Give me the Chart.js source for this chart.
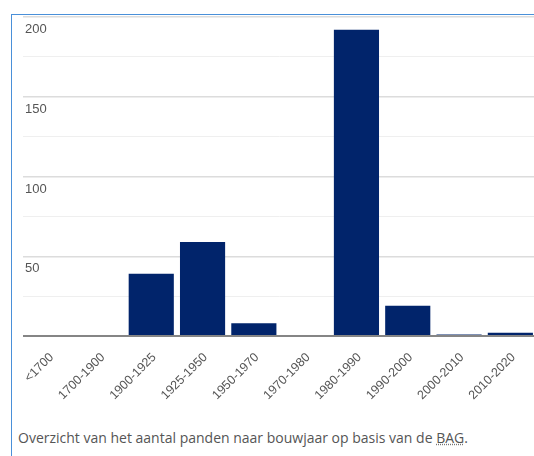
<!DOCTYPE html>
<html>
<head>
<meta charset="utf-8">
<script src="https://cdn.jsdelivr.net/npm/chart.js@4"></script>
<style>
  html, body { margin: 0; padding: 0; background: #fff; width: 534px; height: 456px; overflow: hidden; }
  #frame { position: absolute; left: 11px; top: 14px; width: 600px; height: 600px;
           border-left: 1px solid #4a90d9; border-top: 1px solid #4a90d9; }
  #wrap { position: absolute; left: 12px; top: 15px; width: 524px; height: 395px; }
  #caption { position: absolute; left: 18px; top: 428px; font-family: "Open Sans", sans-serif;
             font-size: 14px; color: #555; white-space: nowrap; }
  abbr { text-decoration: underline dotted; text-decoration-color: #777; }
</style>
</head>
<body>
<div id="frame"></div>
<div id="wrap"><canvas id="c" width="524" height="395"></canvas></div>
<div id="caption">Overzicht van het aantal panden naar bouwjaar op basis van de <abbr title="Basisregistratie Adressen en Gebouwen">BAG</abbr>.</div>
<script>
const categories = ['<1700','1700-1900','1900-1925','1925-1950','1950-1970','1970-1980','1980-1990','1990-2000','2000-2010','2010-2020'];
const panden = [0, 0, 39, 59, 8, 0, 192, 19, 1, 2];
const yTickValues = [50, 100, 150, 200];

new Chart(document.getElementById('c'), {
  type: 'bar',
  data: {
    labels: categories,
    datasets: [{
      data: panden,
      backgroundColor: '#01246b',
      borderWidth: 0,
      categoryPercentage: 1,
      barPercentage: 0.88
    }]
  },
  options: {
    responsive: false,
    animation: false,
    layout: { padding: { top: 2, left: 0, right: 0, bottom: 0 } },
    plugins: { legend: { display: false }, tooltip: { enabled: false } },
    scales: {
      x: {
        grid: { display: false },
        border: { display: false },
        ticks: {
          autoSkip: false,
          minRotation: 45,
          maxRotation: 45,
          padding: 6,
          labelOffset: 3,
          color: '#555',
          font: { family: 'Liberation Sans, Arial, sans-serif', size: 12.5 }
        },
        afterFit: s => { s.height = 74; }
      },
      y: {
        min: 0,
        max: 200,
        border: { display: false },
        grid: {
          drawTicks: false,
          color: ctx => ctx.tick.value === 0 ? '#858585' : (ctx.tick.value % 50 === 0 ? '#dcdcdc' : '#efefef'),
          lineWidth: ctx => ctx.tick.value === 0 ? 2 : (ctx.tick.value % 50 === 0 ? 1.5 : 1)
        },
        ticks: {
          stepSize: 25,
          mirror: true,
          align: 'start',
          padding: 2,
          labelOffset: 6,
          color: '#555',
          font: { family: 'Liberation Sans, Arial, sans-serif', size: 13 },
          callback: v => yTickValues.includes(v) ? String(v) : ''
        },
        afterFit: s => { s.width = 11; }
      }
    }
  }
});
</script>
</body>
</html>
